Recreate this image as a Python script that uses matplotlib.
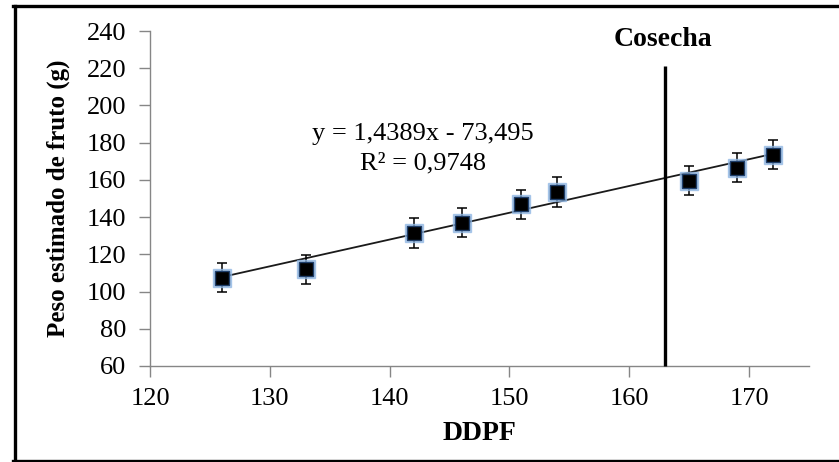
import matplotlib
matplotlib.use("Agg")
import matplotlib.pyplot as plt
from matplotlib.lines import Line2D
import numpy as np

# Data
ddpf = [126, 133, 142, 146, 151, 154, 165, 169, 172]
peso = [107.5, 112.0, 131.5, 137.0, 147.0, 153.5, 159.5, 166.5, 173.5]
error = [7.8, 7.7, 7.9, 7.9, 7.8, 8.0, 7.8, 7.8, 7.8]
slope = 1.4389
intercept = -73.495
r2 = 0.9748
harvest_x = 163
harvest_top = 221
x_ticks = [120, 130, 140, 150, 160, 170]
y_ticks = [60, 80, 100, 120, 140, 160, 180, 200, 220, 240]

plt.rcParams['font.family'] = ['Liberation Serif', 'DejaVu Serif']

W, H = 839, 462
fig = plt.figure(figsize=(W / 100, H / 100), dpi=100)
ax = fig.add_axes([150 / W, (H - 366) / H, (809 - 150) / W, (366 - 31) / H])

ax.set_xlim(120, 175)
ax.set_ylim(60, 240)

# trend line
xt = np.array([min(ddpf), max(ddpf)])
ax.plot(xt, slope * xt + intercept, color='#1a1a1a', lw=1.3, zorder=2)

# harvest line
ax.plot([harvest_x, harvest_x], [60, harvest_top], color='black', lw=2.4, zorder=3,
        clip_on=False, solid_capstyle='butt')

# data with error bars
ax.errorbar(ddpf, peso, yerr=error, fmt='none', ecolor='black', elinewidth=1.1,
            capsize=3.8, capthick=1.1, zorder=4)
ax.plot(ddpf, peso, linestyle='none', marker='s', markersize=13,
        markerfacecolor='#8fb6e3', markeredgecolor='#8fb6e3', alpha=0.7, zorder=4)
ax.plot(ddpf, peso, linestyle='none', marker='s', markersize=10.5,
        markerfacecolor='black', markeredgecolor='#1f3f6b', markeredgewidth=1.0, zorder=5)

ax.text(142.8, 184.7, 'y = 1,4389x - 73,495', ha='center', va='center', fontsize=19)
ax.text(142.8, 169.0, 'R² = 0,9748', ha='center', va='center', fontsize=19)
ax.text(162.8, 235.5, 'Cosecha', ha='center', va='center', fontsize=20, fontweight='bold')

ax.set_xticks(x_ticks)
ax.set_yticks(y_ticks)
ax.tick_params(axis='both', labelsize=19, color='#868686', length=8, width=1.0)
ax.tick_params(axis='x', pad=8)
ax.tick_params(axis='y', pad=9)

for s in ['top', 'right']:
    ax.spines[s].set_visible(False)
for s in ['left', 'bottom']:
    ax.spines[s].set_color('#868686')
    ax.spines[s].set_linewidth(1.0)

ax.set_xlabel('DDPF', fontsize=20, fontweight='bold')
ax.set_ylabel('Peso estimado de fruto (g)', fontsize=18, fontweight='bold')
ax.xaxis.set_label_coords(0.5, -0.165)
ax.yaxis.set_label_coords(-0.122, 0.5)

# outer frame (left, top, bottom)
lw = 2.4
fig.add_artist(Line2D([14.5 / W, 14.5 / W], [(H - 5.5) / H, (H - 460.5) / H],
                      transform=fig.transFigure, color='black', lw=lw, solid_capstyle='projecting'))
fig.add_artist(Line2D([13 / W, 1.0], [(H - 5.5) / H, (H - 5.5) / H],
                      transform=fig.transFigure, color='black', lw=lw))
fig.add_artist(Line2D([13 / W, 1.0], [(H - 460.5) / H, (H - 460.5) / H],
                      transform=fig.transFigure, color='black', lw=lw))

fig.savefig('out.png', dpi=100)
